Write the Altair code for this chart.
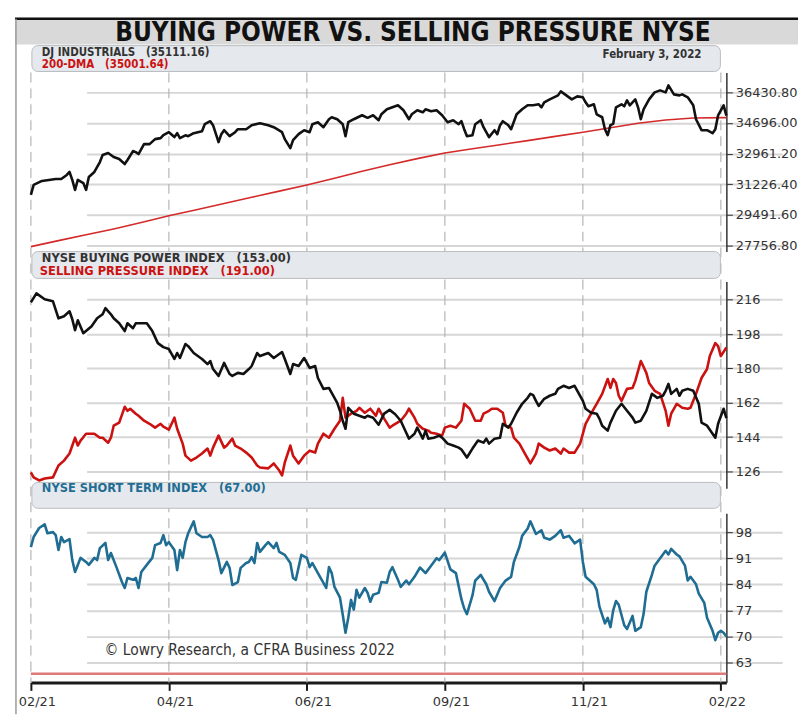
import altair as alt
import pandas as pd

# ---------------- data ----------------
X_TICKS = [0, 50, 100, 150, 200, 250]
X_LABELS = ["02/21", "04/21", "06/21", "09/21", "11/21", "02/22"]

TOP_TICKS = [27756.80, 29491.60, 31226.40, 32961.20, 34696.00, 36430.80]
MID_TICKS = [126, 144, 162, 180, 198, 216]
BOT_TICKS = [63, 70, 77, 84, 91, 98]

DJ_IDX = [0, 1, 4, 9, 11, 13, 14, 15, 16, 17, 19, 20, 21, 23, 25, 26, 28, 30, 32, 34, 35, 37, 38, 39,
          41, 43, 45, 47, 48, 50, 52, 53, 54, 56, 57, 59, 62, 63, 65, 66, 68, 69, 70, 72, 74, 75, 78,
          80, 83, 86, 88, 91, 92, 94, 95, 97, 99, 101, 102, 104, 106, 108, 109, 111, 113, 114, 115,
          117, 120, 122, 124, 126, 127, 129, 131, 133, 135, 137, 138, 140, 142, 143, 145, 147, 149,
          151, 153, 155, 156, 157, 158, 160, 161, 163, 164, 165, 166, 168, 169, 170, 171, 173, 174,
          176, 178, 180, 182, 184, 185, 186, 188, 191, 192, 194, 196, 198, 200, 201, 202, 204, 205,
          207, 208, 209, 210, 211, 212, 214, 215, 216, 217, 219, 220, 221, 222, 224, 226, 228, 230,
          231, 233, 235, 236, 238, 240, 241, 243, 245, 247, 248, 249, 251, 252]
DJ_VAL = [30629, 31192, 31418, 31530, 31530, 31756, 31925, 31474, 30911, 31474, 31300, 30911, 31643,
          31925, 32488, 32882, 32995, 32769, 32657, 32375, 32600, 33107, 33050, 32938, 33502, 33502,
          33783, 33840, 34010, 34177, 33900, 34121, 33840, 34000, 33950, 34121, 34234, 34628, 34797,
          34572, 33614, 34065, 34290, 33952, 34177, 34346, 34346, 34572, 34684, 34572, 34459, 34177,
          33784, 33276, 33727, 34065, 34290, 34177, 34628, 34741, 34459, 34910, 35022, 34910, 34628,
          33952, 34741, 34910, 35135, 34990, 35135, 34853, 35191, 35473, 35585, 35698, 35417, 34910,
          35191, 35417, 35304, 35473, 35360, 35417, 35135, 34741, 34853, 34628, 34797, 34346, 33952,
          34009, 34628, 34853, 34459, 34177, 33896, 34290, 34065, 34572, 34797, 34572, 34346, 35191,
          35473, 35698, 35698, 35754, 35585, 35867, 36036, 36261, 36487, 36261, 36036, 36205, 36149,
          35867, 35642, 35754, 35191, 35022, 34346, 34009, 34572, 34650, 35585, 35754, 35642, 35980,
          35698, 36036, 35585, 34910, 35473, 36036, 36430, 36543, 36430, 36825, 36318, 36261, 36318,
          36149, 35698, 34910, 34290, 34290, 34121, 34346, 35135, 35698, 35111]

DMA_IDX = [0, 10, 20, 30, 40, 50, 60, 70, 80, 90, 100, 110, 120, 130, 140, 150, 160, 170, 180, 190,
           200, 210, 220, 230, 240, 252]
DMA_VAL = [27700, 28040, 28370, 28700, 29060, 29447, 29790, 30140, 30490, 30840, 31192, 31570, 31960,
           32330, 32680, 32995, 33240, 33470, 33700, 33940, 34177, 34430, 34680, 34870, 34980, 35002]

BPI_IDX = [0, 2, 5, 8, 10, 12, 14, 15, 16, 17, 19, 22, 24, 26, 27, 29, 30, 32, 34, 35, 37, 38, 42, 44,
           46, 48, 50, 52, 53, 54, 56, 57, 59, 62, 64, 65, 66, 68, 70, 72, 73, 75, 77, 79, 80, 82, 83,
           86, 88, 90, 91, 92, 94, 95, 97, 99, 100, 101, 103, 104, 106, 108, 109, 111, 112, 113, 114,
           115, 117, 119, 121, 122, 124, 126, 128, 130, 132, 134, 136, 137, 139, 140, 142, 143, 144,
           146, 148, 149, 151, 153, 155, 156, 158, 160, 162, 164, 165, 166, 168, 170, 171, 173, 174,
           176, 178, 180, 181, 182, 183, 184, 186, 188, 190, 191, 193, 195, 197, 198, 200, 201, 203,
           205, 206, 207, 209, 210, 212, 214, 216, 218, 219, 221, 223, 225, 227, 229, 230, 231, 232,
           234, 235, 236, 238, 240, 242, 243, 245, 248, 249, 251, 252]
BPI_VAL = [214.7, 219.4, 216.3, 215.2, 206.3, 207.4, 210.0, 205.8, 200.1, 205.3, 198.5, 202.2, 206.3,
           208.4, 211.6, 208.4, 206.3, 203.7, 199.6, 203.7, 201.1, 203.7, 203.7, 199.6, 193.3, 191.2,
           190.2, 185.0, 188.1, 185.5, 192.8, 191.7, 188.1, 185.0, 182.3, 183.9, 179.7, 176.1, 182.9,
           177.1, 176.1, 177.7, 177.1, 179.7, 181.3, 188.1, 186.5, 188.1, 185.5, 187.6, 188.6, 185.0,
           177.1, 182.3, 181.3, 185.5, 182.9, 180.3, 181.3, 175.0, 169.3, 169.8, 167.2, 162.0, 157.8,
           152.6, 148.4, 159.4, 156.3, 155.2, 154.2, 155.2, 154.2, 150.5, 156.3, 158.3, 156.0, 152.6,
           146.3, 143.2, 145.8, 149.0, 143.2, 147.4, 143.2, 143.7, 144.8, 143.7, 140.6, 139.6, 138.5,
           137.5, 133.3, 138.0, 142.2, 141.1, 143.2, 140.6, 143.2, 143.7, 151.0, 149.0, 151.0, 156.8,
           161.5, 164.6, 166.7, 166.0, 163.0, 160.4, 164.1, 165.7, 166.7, 169.3, 170.9, 169.8, 170.9,
           168.3, 163.0, 158.9, 156.8, 156.3, 153.7, 150.0, 147.4, 151.6, 157.8, 161.5, 157.8, 154.2,
           151.6, 152.6, 157.8, 166.7, 164.6, 165.7, 168.3, 171.9, 166.7, 169.3, 165.7, 168.3, 169.3,
           168.3, 161.5, 151.6, 150.0, 143.7, 151.0, 158.9, 154.0]

SPI_IDX = [0, 1, 3, 5, 8, 10, 12, 14, 16, 17, 18, 20, 23, 25, 26, 28, 29, 30, 32, 34, 35, 36, 38, 39,
           41, 43, 45, 47, 48, 50, 52, 53, 55, 56, 58, 60, 62, 64, 65, 66, 68, 70, 71, 73, 74, 76, 78,
           80, 82, 83, 86, 88, 90, 91, 92, 94, 95, 97, 99, 101, 103, 104, 106, 108, 110, 112, 113, 114,
           116, 118, 119, 121, 123, 125, 126, 128, 130, 131, 134, 136, 137, 139, 140, 142, 144, 145,
           147, 149, 150, 152, 154, 156, 157, 159, 161, 163, 164, 166, 167, 169, 171, 172, 174, 175,
           177, 179, 181, 183, 184, 186, 188, 190, 192, 193, 195, 197, 199, 201, 203, 204, 205, 207,
           209, 210, 211, 212, 213, 214, 216, 218, 219, 221, 223, 224, 226, 228, 230, 231, 232, 234,
           236, 238, 239, 241, 243, 245, 246, 248, 249, 250, 252]
SPI_VAL = [125.5, 122.9, 121.3, 122.3, 122.9, 129.1, 131.7, 135.4, 143.7, 139.6, 142.2, 145.8, 145.8,
           143.7, 143.7, 141.1, 143.7, 150.0, 151.6, 159.9, 157.8, 158.9, 156.3, 155.2, 152.6, 151.0,
           149.0, 151.0, 149.5, 147.9, 154.2, 148.4, 140.6, 134.3, 131.7, 133.3, 135.4, 138.0, 134.3,
           138.5, 144.8, 138.5, 139.6, 143.2, 139.6, 138.0, 135.9, 133.3, 129.1, 128.1, 127.6, 130.2,
           126.5, 123.9, 130.7, 139.6, 134.3, 130.2, 134.3, 136.9, 135.9, 140.6, 145.8, 143.7, 148.4,
           152.6, 164.6, 154.2, 156.3, 157.8, 159.4, 156.8, 158.9, 155.2, 158.9, 153.7, 149.0, 150.0,
           152.6, 156.3, 158.9, 154.2, 151.0, 148.4, 147.4, 146.3, 145.8, 144.8, 149.0, 150.0, 149.0,
           152.6, 161.5, 158.9, 152.6, 152.6, 156.3, 157.8, 158.9, 158.9, 156.8, 150.0, 149.0, 143.7,
           140.6, 135.4, 130.2, 135.4, 140.6, 138.5, 137.0, 138.0, 135.4, 138.0, 135.9, 135.9, 140.6,
           151.0, 156.3, 158.9, 161.5, 166.7, 174.5, 169.8, 174.5, 172.4, 165.7, 163.0, 169.3, 169.8,
           173.5, 183.9, 177.7, 172.4, 168.3, 166.7, 157.8, 150.0, 156.3, 161.5, 159.4, 158.9, 159.4,
           166.7, 175.0, 179.7, 186.5, 193.3, 191.7, 186.5, 191.0]

STI_IDX = [0, 1, 3, 5, 6, 8, 9, 10, 11, 12, 14, 15, 16, 17, 18, 20, 21, 23, 24, 25, 27, 28, 29, 31,
           33, 34, 35, 37, 38, 39, 40, 42, 44, 45, 47, 48, 49, 50, 52, 53, 54, 55, 56, 57, 59, 60, 62,
           64, 65, 66, 68, 69, 71, 72, 73, 75, 76, 78, 79, 80, 81, 82, 83, 85, 86, 88, 89, 90, 92, 94,
           95, 96, 98, 100, 101, 102, 104, 106, 107, 108, 109, 110, 112, 113, 114, 115, 116, 117, 118,
           119, 121, 122, 123, 124, 126, 127, 129, 130, 131, 133, 134, 136, 137, 139, 141, 143, 145,
           147, 148, 150, 152, 154, 156, 157, 158, 160, 161, 163, 165, 166, 168, 170, 172, 174, 175,
           177, 178, 180, 181, 183, 185, 186, 188, 190, 192, 193, 195, 197, 199, 200, 201, 204, 205,
           206, 208, 209, 210, 211, 212, 213, 215, 216, 218, 219, 221, 222, 223, 225, 226, 228, 230,
           231, 232, 234, 235, 237, 238, 239, 241, 242, 244, 245, 247, 248, 249, 250, 251, 252]
STI_VAL = [94.0, 96.7, 99.1, 100.1, 97.7, 98.0, 97.2, 93.2, 96.7, 95.3, 96.1, 90.5, 87.3, 89.2, 91.1,
           90.0, 89.2, 91.1, 90.5, 93.7, 95.1, 90.5, 92.4, 88.6, 84.6, 83.0, 85.7, 85.2, 85.7, 83.0,
           87.3, 89.2, 91.1, 94.5, 95.1, 97.2, 94.5, 95.3, 93.2, 87.8, 93.2, 91.1, 95.3, 97.7, 100.9,
           97.7, 96.7, 96.7, 97.2, 95.9, 90.5, 87.0, 90.0, 88.4, 83.8, 84.6, 88.4, 89.7, 90.0, 91.3,
           89.7, 95.1, 92.7, 94.5, 95.3, 93.7, 95.1, 92.7, 91.9, 89.7, 85.7, 85.2, 91.9, 91.1, 88.6,
           89.7, 87.0, 84.4, 83.0, 88.6, 87.0, 83.3, 80.4, 75.8, 71.0, 75.0, 79.8, 77.2, 82.5, 80.4,
           83.0, 81.7, 79.3, 81.2, 81.7, 84.6, 84.4, 87.3, 88.6, 85.2, 83.3, 85.0, 84.0, 86.0, 88.5,
           87.0, 89.0, 91.0, 90.5, 92.5, 88.0, 87.0, 80.0, 77.5, 76.0, 81.0, 85.0, 86.5, 84.0, 82.0,
           79.5, 83.0, 85.0, 86.0, 90.0, 94.0, 97.0, 99.0, 100.9, 97.5, 98.5, 96.5, 96.0, 97.0, 98.5,
           96.5, 97.0, 95.0, 96.0, 90.0, 86.0, 84.0, 82.5, 78.0, 73.5, 75.0, 72.5, 77.0, 79.5, 78.5,
           73.0, 72.0, 75.5, 71.5, 72.5, 76.0, 82.0, 86.5, 89.0, 91.0, 93.0, 92.0, 93.5, 92.0, 91.5,
           89.0, 85.0, 86.0, 84.0, 81.5, 79.0, 75.0, 71.5, 69.0, 71.0, 71.5, 71.0, 70.0]

REF_IDX = [0, 252]
REF_VAL = [60, 60]

TITLE = "BUYING POWER VS. SELLING PRESSURE NYSE"
DATE_TEXT = "February 3, 2022"
DJ_TEXT = "DJ INDUSTRIALS\u00a0\u00a0\u00a0(35111.16)"
DMA_TEXT = "200-DMA\u00a0\u00a0\u00a0(35001.64)"
BPI_TEXT = "NYSE BUYING POWER INDEX\u00a0\u00a0\u00a0(153.00)"
SPI_TEXT = "SELLING PRESSURE INDEX\u00a0\u00a0\u00a0(191.00)"
STI_TEXT = "NYSE SHORT TERM INDEX\u00a0\u00a0\u00a0(67.00)"
COPY_TEXT = "\u00a9 Lowry Research, a CFRA Business 2022"

# ---------------- styling ----------------
W, H = 787, 668
AX_X = 715
NARROW = "Liberation Sans Narrow, DejaVu Sans Condensed, Liberation Sans, sans-serif"
AXFONT = "DejaVu Sans"
BLACK = "#111111"
RED = "#cc1111"
TEAL = "#1f6d93"

XS = alt.Scale(domain=[0, 252], range=[16, AX_X], nice=False, zero=False)
label_expr = "[" + ",".join("'" + s + "'" for s in X_LABELS) + "][round(datum.value / 50)]"
X_AX = alt.Axis(values=X_TICKS, labelExpr=label_expr, grid=False, domainWidth=3,
                domainColor="#1a1a1a", tickColor="#1a1a1a", tickWidth=2, tickSize=8,
                labelFont=AXFONT, labelFontSize=13, labelColor="#333333", labelOffset=6,
                labelPadding=5, labelFlush=False, title=None)


def y_axis(vals, fmt):
    return alt.Axis(orient="right", offset=AX_X - W, values=vals, format=fmt, grid=True,
                    gridColor="#d6d6d6", gridWidth=2, domainColor="#333333", domainWidth=1.5,
                    tickColor="#333333", tickSize=6, labelFont=AXFONT, labelFontSize=13,
                    labelColor="#333333", labelPadding=3, labelOverlap=False, title=None)


TOP_YS = alt.Scale(domain=[27418.9, 37556.5], range=[235, 55], nice=False, zero=False)
MID_YS = alt.Scale(domain=[117.13, 225.65], range=[473, 265], nice=False, zero=False)
BOT_YS = alt.Scale(domain=[57.66, 103.07], range=[668, 498], nice=False, zero=False)
TOP_AX = y_axis(TOP_TICKS, ".2f")
MID_AX = y_axis(MID_TICKS, "d")
BOT_AX = y_axis(BOT_TICKS, "d")

ONE = pd.DataFrame({"k": [0]})


def series(idx, val, color, width, ys, ax):
    df = pd.DataFrame({"idx": idx, "v": val})
    return alt.Chart(df).mark_line(color=color, strokeWidth=width, strokeJoin="round").encode(
        x=alt.X("idx:Q", scale=XS, axis=X_AX),
        y=alt.Y("v:Q", scale=ys, axis=ax),
    )


def box(y0, y1):
    return alt.Chart(ONE).mark_rect(fill="#e5e8ec", stroke="#b9bcc0", strokeWidth=1,
                                    cornerRadius=6).encode(
        x=alt.value(17), x2=alt.value(709), y=alt.value(y0), y2=alt.value(y1))


def label(text, x, y, color, size=11, font="DejaVu Sans", align="left", weight="bold"):
    return alt.Chart(ONE).mark_text(align=align, baseline="middle", font=font, fontSize=size,
                                    fontWeight=weight, color=color).encode(
        x=alt.value(x), y=alt.value(y), text=alt.value(text))


band = alt.Chart(ONE).mark_rect(fill="#d9d9d9").encode(
    x=alt.value(0), x2=alt.value(W), y=alt.value(0), y2=alt.value(27))
band_line = alt.Chart(ONE).mark_rule(color="#111111", strokeWidth=2.5).encode(
    x=alt.value(0), x2=alt.value(W), y=alt.value(1))
frame = alt.Chart(ONE).mark_rule(color="#9a9a9a", strokeWidth=1.5).encode(
    x=alt.value(1), y=alt.value(1), y2=alt.value(700))
title = label(TITLE, 400, 15, "#111111", size=26, font=NARROW, align="center", weight="bold")

vgrid = alt.Chart(pd.DataFrame({"idx": X_TICKS})).mark_rule(
    color="#b5b5b5", strokeWidth=1.2, strokeDash=[10, 6]).encode(
    x=alt.X("idx:Q", scale=XS, axis=X_AX), y=alt.value(55), y2=alt.value(668))

top = alt.layer(
    series(DMA_IDX, DMA_VAL, "#d42a2a", 1.6, TOP_YS, TOP_AX),
    series(DJ_IDX, DJ_VAL, BLACK, 2.6, TOP_YS, TOP_AX),
)
mid = alt.layer(
    series(SPI_IDX, SPI_VAL, RED, 2.6, MID_YS, MID_AX),
    series(BPI_IDX, BPI_VAL, BLACK, 2.6, MID_YS, MID_AX),
)
bot = alt.layer(
    series(REF_IDX, REF_VAL, "#e07a7a", 2.5, BOT_YS, BOT_AX),
    series(STI_IDX, STI_VAL, TEAL, 2.6, BOT_YS, BOT_AX),
)

chart = alt.layer(
    band, band_line, frame, title, vgrid,
    top, mid, bot,
    box(28, 54), box(235, 262), box(467, 493),
    label(DJ_TEXT, 27, 35, "#333333", size=11.5, font=NARROW),
    label(DMA_TEXT, 27, 48, RED, size=11.5, font=NARROW),
    label(DATE_TEXT, 690, 37, "#333333", size=11.5, font=NARROW, align="right"),
    label(BPI_TEXT, 27, 242, "#333333", size=11.5),
    label(SPI_TEXT, 25, 256, RED, size=11.5),
    label(STI_TEXT, 27, 474, TEAL, size=11.5),
    label(COPY_TEXT, 90, 635, "#333333", size=15.5, font=NARROW, weight="normal"),
).resolve_scale(y="independent").properties(
    width=W, height=H, padding={"left": 5, "top": 7, "right": 0, "bottom": 5}
).configure_view(stroke=None)

chart.save("out.html", embed_options={"renderer": "svg", "actions": False})
